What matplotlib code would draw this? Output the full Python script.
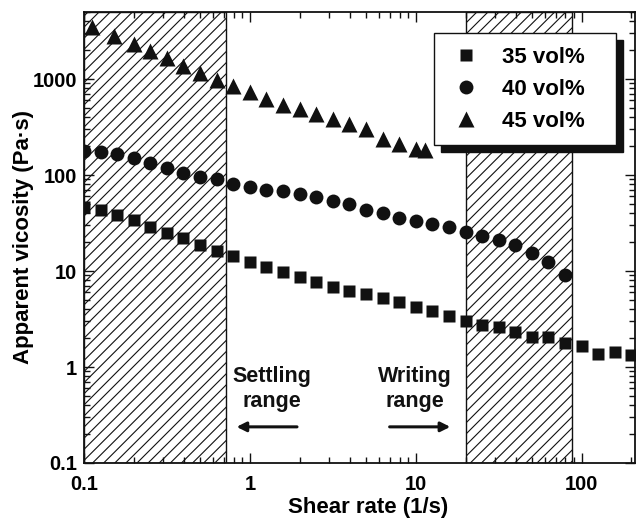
import matplotlib
matplotlib.use("Agg")
import matplotlib.pyplot as plt
from matplotlib.ticker import FixedLocator, FuncFormatter

plt.rcParams['font.family'] = ['Liberation Sans', 'DejaVu Sans']
plt.rcParams['font.weight'] = 'bold'
plt.rcParams['hatch.linewidth'] = 0.8

# shear rate (1/s) and apparent viscosity (Pa.s)
x_35 = [0.1, 0.126, 0.158, 0.2, 0.251, 0.316, 0.398, 0.501, 0.631, 0.794,
        1.0, 1.26, 1.58, 2.0, 2.51, 3.16, 3.98, 5.01, 6.31, 7.94,
        10.0, 12.6, 15.8, 20.0, 25.1, 31.6, 39.8, 50.1, 63.1, 79.4,
        100, 126, 158, 200]
y_35 = [46, 43.5, 38.8, 34.4, 29.1, 25.2, 21.9, 18.5, 16.0, 14.2,
        12.3, 11.1, 9.7, 8.6, 7.6, 6.9, 6.2, 5.7, 5.2, 4.8,
        4.2, 3.8, 3.4, 3.0, 2.73, 2.6, 2.31, 2.07, 2.05, 1.78,
        1.65, 1.36, 1.43, 1.32]

x_40 = [0.1, 0.126, 0.158, 0.2, 0.251, 0.316, 0.398, 0.501, 0.631, 0.794,
        1.0, 1.26, 1.58, 2.0, 2.51, 3.16, 3.98, 5.01, 6.31, 7.94,
        10.0, 12.6, 15.8, 20.0, 25.1, 31.6, 39.8, 50.1, 63.1, 79.4]
y_40 = [177, 172, 167, 152, 135, 119, 106, 96, 90, 81,
        75.6, 70.5, 68, 63, 58.5, 54, 50.4, 43.7, 40.7, 36.1,
        33.5, 31.2, 28.8, 25.8, 23.4, 21.3, 18.5, 15.6, 12.3, 9.0]

x_45 = [0.112, 0.152, 0.2, 0.251, 0.316, 0.398, 0.501, 0.631, 0.794,
        1.0, 1.26, 1.58, 2.0, 2.51, 3.16, 3.98, 5.01, 6.31, 7.94,
        10.0, 11.3]
y_45 = [3520, 2810, 2340, 1960, 1640, 1370, 1160, 980, 850,
        735, 625, 540, 483, 429, 385, 342, 303, 239, 212,
        188, 181]

labels = ['35 vol%', '40 vol%', '45 vol%']
settle_range = (0.1, 0.72)
write_range = (20, 88)

ink = '#111111'

fig = plt.figure(figsize=(6.38, 5.24), dpi=100, facecolor='white')
ax = fig.add_axes([84/638, 1 - 463/524, 551/638, 451/524])
ax.set_xscale('log')
ax.set_yscale('log')
ax.set_xlim(0.1, 210)
ax.set_ylim(0.1, 5000)

# hatched ranges
for lo, hi in (settle_range, write_range):
    ax.axvspan(lo, hi, facecolor='white', edgecolor=ink, hatch='///',
               linewidth=1.0, zorder=1)

ax.plot(x_35, y_35, 's', color=ink, ms=8.6, mec='none', label=labels[0], zorder=3)
ax.plot(x_40, y_40, 'o', color=ink, ms=10, mec='none', label=labels[1], zorder=3)
ax.plot(x_45, y_45, '^', color=ink, ms=11, mec='none', label=labels[2], zorder=3)

# annotations
ax.text(1.36, 0.59, 'Settling\nrange', ha='center', va='center',
        fontsize=15.5, fontweight='bold', color=ink, linespacing=1.2)
ax.text(9.9, 0.59, 'Writing\nrange', ha='center', va='center',
        fontsize=15.5, fontweight='bold', color=ink, linespacing=1.2)
ax.annotate('', xy=(0.80, 0.238), xytext=(2.0, 0.238),
            arrowprops=dict(arrowstyle='-|>', lw=2.2, color=ink, mutation_scale=14))
ax.annotate('', xy=(16.8, 0.238), xytext=(6.7, 0.238),
            arrowprops=dict(arrowstyle='-|>', lw=2.2, color=ink, mutation_scale=14))

# axes, ticks
ax.xaxis.set_major_locator(FixedLocator([0.1, 1, 10, 100]))
ax.yaxis.set_major_locator(FixedLocator([0.1, 1, 10, 100, 1000]))
fmt = FuncFormatter(lambda v, p: '%g' % v)
ax.xaxis.set_major_formatter(fmt)
ax.yaxis.set_major_formatter(fmt)
ax.tick_params(which='both', direction='in', top=True, right=True, width=1.0, color=ink)
ax.tick_params(which='major', length=7, labelsize=14.5)
ax.tick_params(axis='x', which='major', pad=9)
ax.tick_params(axis='y', which='major', pad=5)
ax.tick_params(which='minor', length=4)
for s in ax.spines.values():
    s.set_linewidth(1.3)
    s.set_color(ink)

ax.set_xlabel('Shear rate (1/s)', fontsize=16, fontweight='bold', labelpad=3)
ax.xaxis.set_label_coords(0.515, -0.075)
ax.set_ylabel('Apparent vicosity (Pa·s)', fontsize=16, fontweight='bold', labelpad=-1)

leg = ax.legend(loc='upper right', bbox_to_anchor=(0.966, 0.953), borderaxespad=0,
                numpoints=1, fontsize=16, frameon=True, fancybox=False,
                edgecolor=ink, framealpha=1, borderpad=0.6, labelspacing=0.5,
                handlelength=1.7, handletextpad=0.75,
                shadow={'ox': 5, 'oy': -5, 'facecolor': ink, 'edgecolor': ink, 'alpha': 1})
for t in leg.get_texts():
    t.set_text(t.get_text() + '   ')
leg.get_frame().set_linewidth(1.0)
leg.set_zorder(5)

fig.savefig('out.png', dpi=100, facecolor='white')
